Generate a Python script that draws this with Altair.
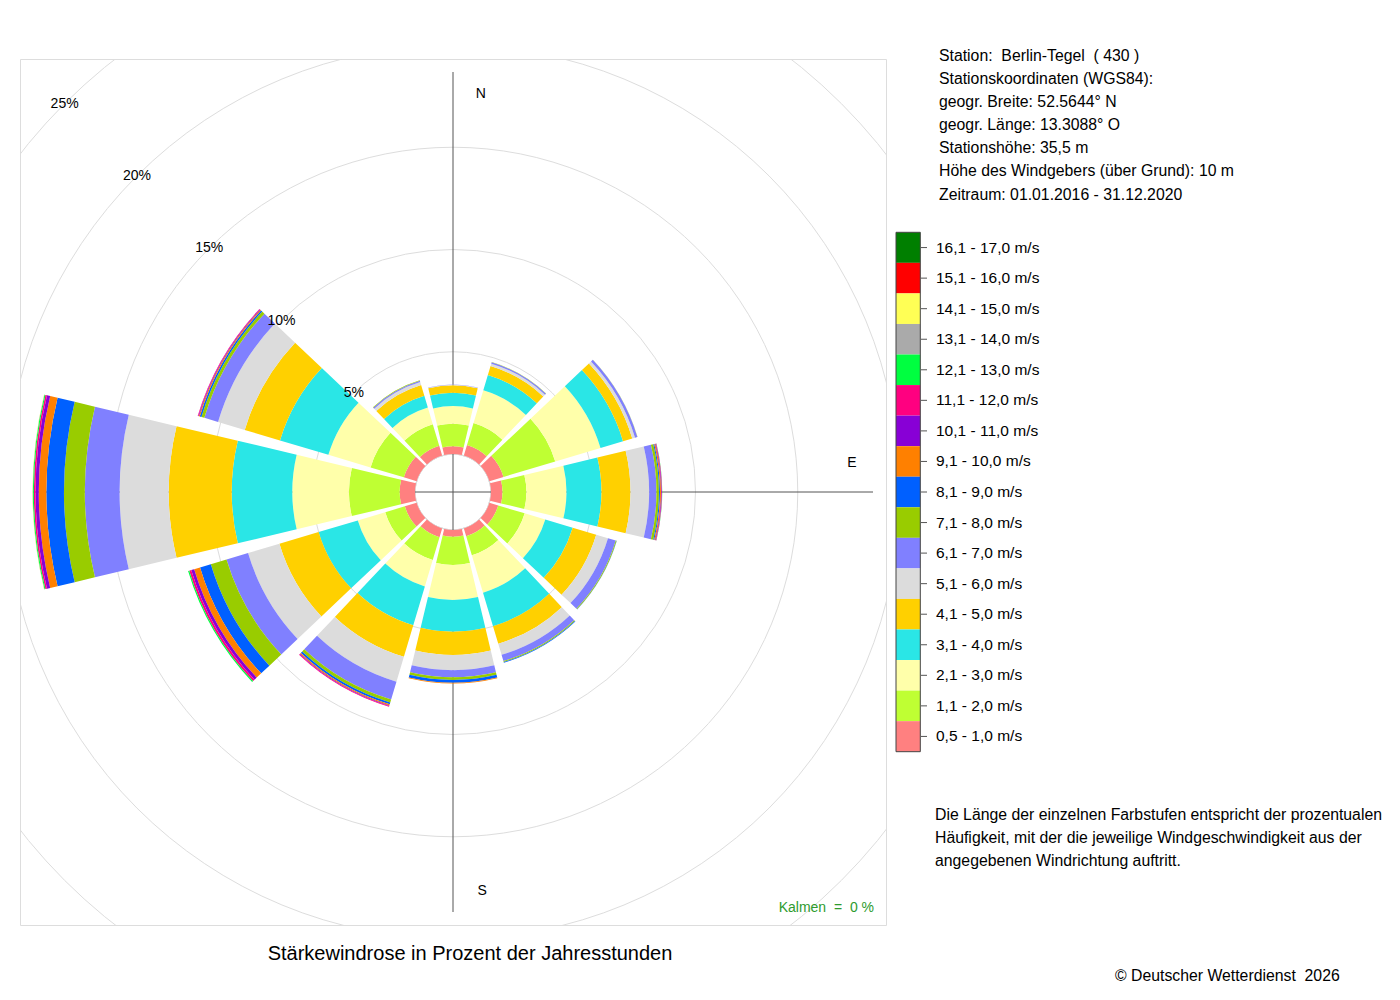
import math
import altair as alt
import pandas as pd

FONT = "Liberation Sans"
NB = "\u00a0"

# ---------------- data ----------------
directions = [0, 30, 60, 90, 120, 150, 180, 210, 240, 270, 300, 330]
dir_names = ["N", "NNE", "ENE", "E", "ESE", "SSE", "S", "SSW", "WSW", "W", "WNW", "NNW"]

classes = ["0,5 - 1,0 m/s", "1,1 - 2,0 m/s", "2,1 - 3,0 m/s", "3,1 - 4,0 m/s",
           "4,1 - 5,0 m/s", "5,1 - 6,0 m/s", "6,1 - 7,0 m/s", "7,1 - 8,0 m/s",
           "8,1 - 9,0 m/s", "9,1 - 10,0 m/s", "10,1 - 11,0 m/s", "11,1 - 12,0 m/s",
           "12,1 - 13,0 m/s", "13,1 - 14,0 m/s", "14,1 - 15,0 m/s", "15,1 - 16,0 m/s",
           "16,1 - 17,0 m/s"]
class_colors = ["#FF8080", "#BFFF33", "#FFFFAA", "#2AE6E6", "#FFD000", "#DCDCDC",
                "#8080FF", "#99CC00", "#0060FF", "#FF8000", "#8800D6", "#FF0080",
                "#00FF40", "#AAAAAA", "#FFFF55", "#FF0000", "#007F00"]

# percent of hours per speed class (inner -> outer), per direction sector
freq_N = [0.38, 1.10, 0.86, 0.65, 0.37, 0.02, 0.02]
freq_NNE = [0.54, 1.12, 1.67, 0.78, 0.46, 0.12, 0.07, 0.01]
freq_ENE = [0.72, 2.64, 2.31, 1.15, 0.47, 0.14, 0.12, 0.01]
freq_E = [0.56, 1.17, 1.96, 1.71, 1.42, 0.91, 0.36, 0.12, 0.05, 0.05, 0.03, 0.02, 0.01]
freq_ESE = [0.45, 1.35, 1.05, 1.40, 1.20, 0.60, 0.40, 0.04, 0.01]
freq_SSE = [0.40, 0.97, 1.91, 1.71, 0.90, 0.56, 0.32, 0.05, 0.03]
freq_S = [0.33, 1.38, 1.71, 1.55, 1.14, 0.74, 0.35, 0.13, 0.14, 0.03]
freq_SSW = [0.45, 1.16, 1.35, 1.98, 1.61, 1.27, 0.91, 0.15, 0.09, 0.06, 0.03, 0.04]
freq_WSW = [0.60, 1.00, 1.40, 2.00, 2.00, 1.60, 1.10, 0.80, 0.55, 0.30, 0.15, 0.10, 0.06]
freq_W = [0.75, 2.48, 2.77, 2.96, 3.08, 2.40, 1.70, 1.02, 0.86, 0.37, 0.16, 0.08, 0.05, 0.01, 0.01]
freq_WNW = [0.65, 1.70, 2.15, 2.47, 1.80, 1.36, 0.70, 0.15, 0.08, 0.05, 0.03, 0.03]
freq_NNW = [0.50, 1.10, 0.85, 0.60, 0.55, 0.15, 0.07, 0.02]

ring_pct = [5, 10, 15, 20, 25]

station_lines = [f"Station: {NB}Berlin-Tegel {NB}( 430 )",
                 "Stationskoordinaten (WGS84):",
                 "geogr. Breite: 52.5644° N",
                 "geogr. Länge: 13.3088° O",
                 "Stationshöhe: 35,5 m",
                 "Höhe des Windgebers (über Grund): 10 m",
                 "Zeitraum: 01.01.2016 - 31.12.2020"]
note_lines = ["Die Länge der einzelnen Farbstufen entspricht der prozentualen",
              "Häufigkeit, mit der die jeweilige Windgeschwindigkeit aus der",
              "angegebenen Windrichtung auftritt."]
title_text = "Stärkewindrose in Prozent der Jahresstunden"
copyright_text = f"© Deutscher Wetterdienst {NB}2026"
calm_text = f"Kalmen {NB}= {NB}0 %"

# ---------------- tables ----------------
all_freqs = [freq_N, freq_NNE, freq_ENE, freq_E, freq_ESE, freq_SSE,
             freq_S, freq_SSW, freq_WSW, freq_W, freq_WNW, freq_NNW]
HALF = 13.4  # half sector width in degrees
rows = []
for d, name, freqs in zip(directions, dir_names, all_freqs):
    cum = 0.0
    t1, t2 = d - HALF, d + HALF
    if t1 < 0:
        t1, t2 = t1 + 360, t2 + 360
    for i, v in enumerate(freqs):
        if v <= 0:
            continue
        rows.append(dict(dir=name, cls=classes[i], r0=cum, r1=cum + v, t1=t1, t2=t2))
        cum += v
df = pd.DataFrame(rows)

W = H = 866
CX, CY = W / 2, H / 2
R0PX, KPX = 38.0, 20.45
rscale = alt.Scale(type="linear", domain=[0, 25], range=[R0PX, R0PX + 25 * KPX])
tscale = alt.Scale(type="linear", domain=[0, 360], range=[0, 2 * math.pi])
cscale = alt.Scale(domain=classes, range=class_colors)

ring_df = pd.DataFrame({"pct": ring_pct, "lab": [f"{p}%" for p in ring_pct]})

grid = alt.Chart(ring_df).mark_arc(
    fillOpacity=0, stroke="#dddddd", strokeWidth=1, clip=True,
    theta=0, theta2=2 * math.pi + 0.001
).encode(radius=alt.Radius("pct:Q", scale=rscale, stack=False))

one = pd.DataFrame({"a": [0]})
vline = alt.Chart(one).mark_rule(color="#555555", strokeWidth=1).encode(
    x=alt.value(CX), y=alt.value(CY - 420), y2=alt.value(CY + 420))
hline = alt.Chart(one).mark_rule(color="#555555", strokeWidth=1).encode(
    x=alt.value(CX - 420), x2=alt.value(CX + 420), y=alt.value(CY))

def dir_label(txt, ang_deg, rad):
    return alt.Chart(pd.DataFrame({"t": [txt]})).mark_text(
        font=FONT, fontSize=14, color="black",
        theta=math.radians(ang_deg), radius=rad
    ).encode(text="t:N")

dlabels = [dir_label("N", 4.0, 399), dir_label("E", 85.8, 400), dir_label("S", 175.8, 400)]

sectors = alt.Chart(df).mark_arc().encode(
    theta=alt.Theta("t1:Q", scale=tscale, stack=False),
    theta2="t2:Q",
    radius=alt.Radius("r1:Q", scale=rscale, stack=False),
    radius2="r0:Q",
    color=alt.Color("cls:N", scale=cscale, legend=None),
)

ring_labels = alt.Chart(ring_df).mark_text(
    font=FONT, fontSize=14, color="black", theta=math.radians(315)
).encode(radius=alt.Radius("pct:Q", scale=rscale, stack=False), text="lab:N")

# legend
LEG_TOP, LEG_BOT = 232.3 - 59, 751.7 - 59
leg_df = pd.DataFrame({"cls": classes[::-1]})
yscale = alt.Scale(domain=classes[::-1], range=[LEG_TOP, LEG_BOT], paddingInner=0, paddingOuter=0)
leg_rects = alt.Chart(leg_df).mark_rect().encode(
    x=alt.value(876), x2=alt.value(900.3),
    y=alt.Y("cls:N", scale=yscale, axis=None),
    color=alt.Color("cls:N", scale=cscale, legend=None),
)
leg_border = alt.Chart(one).mark_rect(fillOpacity=0, stroke="#444444", strokeWidth=1).encode(
    x=alt.value(876), x2=alt.value(900.3), y=alt.value(LEG_TOP), y2=alt.value(LEG_BOT))
leg_ticks = alt.Chart(leg_df).mark_rule(color="#555555", strokeWidth=1).encode(
    x=alt.value(901), x2=alt.value(907),
    y=alt.Y("cls:N", scale=yscale, axis=None, bandPosition=0.5),
)
leg_text = alt.Chart(leg_df).mark_text(
    font=FONT, fontSize=15.5, align="left", baseline="middle", color="black"
).encode(x=alt.value(916), y=alt.Y("cls:N", scale=yscale, axis=None), text="cls:N")

def block(lines, x, y, size, lh, align="left", color="black", baseline="alphabetic"):
    return alt.Chart(pd.DataFrame({"t": ["\n".join(lines)]})).mark_text(
        font=FONT, fontSize=size, align=align, baseline=baseline, color=color,
        lineBreak="\n", lineHeight=lh
    ).encode(x=alt.value(x), y=alt.value(y), text="t:N")

station = block(station_lines, 919, 1.5, 15.8, 23.17)
note = block(note_lines, 915, 761, 15.8, 23)
title = block([title_text], 450, 895, 20, 24, align="center", baseline="middle")
copyr = block([copyright_text], 1095, 917, 15.8, 20, baseline="middle")
calm = block([calm_text], 854, 849, 14, 16, align="right", color="#2E9B2E", baseline="middle")

chart = alt.layer(
    grid, vline, hline, *dlabels, sectors, ring_labels,
    leg_rects, leg_border, leg_ticks, leg_text,
    station, note, title, copyr, calm
).properties(
    width=W, height=H,
    padding={"left": 12, "top": 51, "right": 505, "bottom": 60},
    autosize=alt.AutoSizeParams(type="none"),
).configure_view(stroke="#777777", strokeWidth=1).configure(background="white")

chart.save("out.html", embed_options={"renderer": "svg", "actions": False})
